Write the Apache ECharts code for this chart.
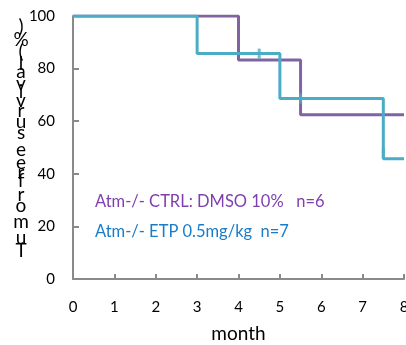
<!DOCTYPE html>
<html><head><meta charset="utf-8">
<script src="https://cdn.jsdelivr.net/npm/echarts@6/dist/echarts.min.js"></script>
<style>html,body{margin:0;padding:0;background:#fff}#c{width:406px;height:345px}</style>
</head><body><div id="c"></div>
<script>
const xTicks = [0,1,2,3,4,5,6,7,8];
const yTicks = [0,20,40,60,80,100];
const ctrlTime = [0, 4, 5.5, 8];
const ctrlSurv = [100, 83.3, 62.5, 62.5];
const etpTime = [0, 3, 5, 7.5, 8];
const etpSurv = [100, 85.7, 68.6, 45.7, 45.7];
const etpCensorTime = [4.5, 5.5, 7.5];
const etpCensorSurv = [85.7, 68.6, 48];
const legendTexts = ['Atm-/- CTRL: DMSO 10%   n=6', 'Atm-/- ETP 0.5mg/kg  n=7'];
const yTitle = 'Tumor free survival (%)';
const xTitle = 'month';

const FONT = 'Lato, "Open Sans", sans-serif';
const chart = echarts.init(document.getElementById('c'));

// vertical stacked y-axis title, characters upright, positioned by advance width
const cv = document.createElement('canvas').getContext('2d');
cv.font = '19px ' + FONT;
const chars = yTitle.split('');
const widths = chars.map(ch => cv.measureText(ch).width);
const totalW = widths.reduce((a,b)=>a+b,0);
const yBottom = 258, yTop = 24;
const sc = (yBottom - yTop) / totalW;
let acc = 0;
const titleEls = [];
chars.forEach((ch,i) => {
  const cy = yBottom - (acc + widths[i]/2) * sc;
  acc += widths[i];
  if (ch === ' ') return;
  titleEls.push({type:'text', x: 21, y: cy, style:{text: ch, font: '19px ' + FONT, fill:'#000', align:'center', verticalAlign:'middle'}});
});

chart.setOption({
  animation: false,
  grid: {left: 73, right: 2, top: 16, bottom: 66, outerBoundsMode: 'none', containLabel: false},
  xAxis: {
    type: 'value', min: 0, max: 8, interval: 1,
    name: xTitle, nameLocation: 'middle', nameGap: 45,
    nameTextStyle: {fontSize: 19, fontFamily: FONT, color: '#000', letterSpacing: 2},
    axisLine: {lineStyle: {color: '#8a8a8a', width: 2}},
    axisTick: {inside: true, length: 5, lineStyle: {color: '#8a8a8a', width: 2}},
    axisLabel: {margin: 21, fontSize: 15, fontFamily: FONT, color: '#000', showMaxLabel: true,
      formatter: v => xTicks.includes(v) ? String(v) : ''},
    splitLine: {show: false}
  },
  yAxis: {
    type: 'value', min: 0, max: 100, interval: 20,
    axisLine: {show: true, lineStyle: {color: '#8a8a8a', width: 2}},
    axisTick: {show: true, inside: true, length: 6, lineStyle: {color: '#8a8a8a', width: 2}},
    axisLabel: {margin: 18, fontSize: 15, fontFamily: FONT, color: '#000',
      formatter: v => yTicks.includes(v) ? String(v) : ''},
    splitLine: {show: false}
  },
  series: [
    {type: 'line', step: 'end', showSymbol: false, data: ctrlTime.map((t,i)=>[t, ctrlSurv[i]]),
      lineStyle: {color: '#8064A2', width: 3}, itemStyle: {color: '#8064A2'}, z: 2},
    {type: 'line', step: 'end', showSymbol: false, data: etpTime.map((t,i)=>[t, etpSurv[i]]),
      lineStyle: {color: '#4BACC6', width: 3}, itemStyle: {color: '#4BACC6'}, z: 3},
    {type: 'scatter', symbol: 'rect', symbolSize: [3, 10], data: etpCensorTime.map((t,i)=>[t, etpCensorSurv[i]]),
      itemStyle: {color: '#4BACC6'}, z: 4}
  ],
  graphic: [
    {type: 'text', left: 95, top: 193, style: {text: legendTexts[0], font: '16.5px ' + FONT, fill: '#7F3FAF'}},
    {type: 'text', left: 95, top: 223, style: {text: legendTexts[1], font: '16.5px ' + FONT, fill: '#1A7CC8'}},
    ...titleEls
  ]
});
</script></body></html>
